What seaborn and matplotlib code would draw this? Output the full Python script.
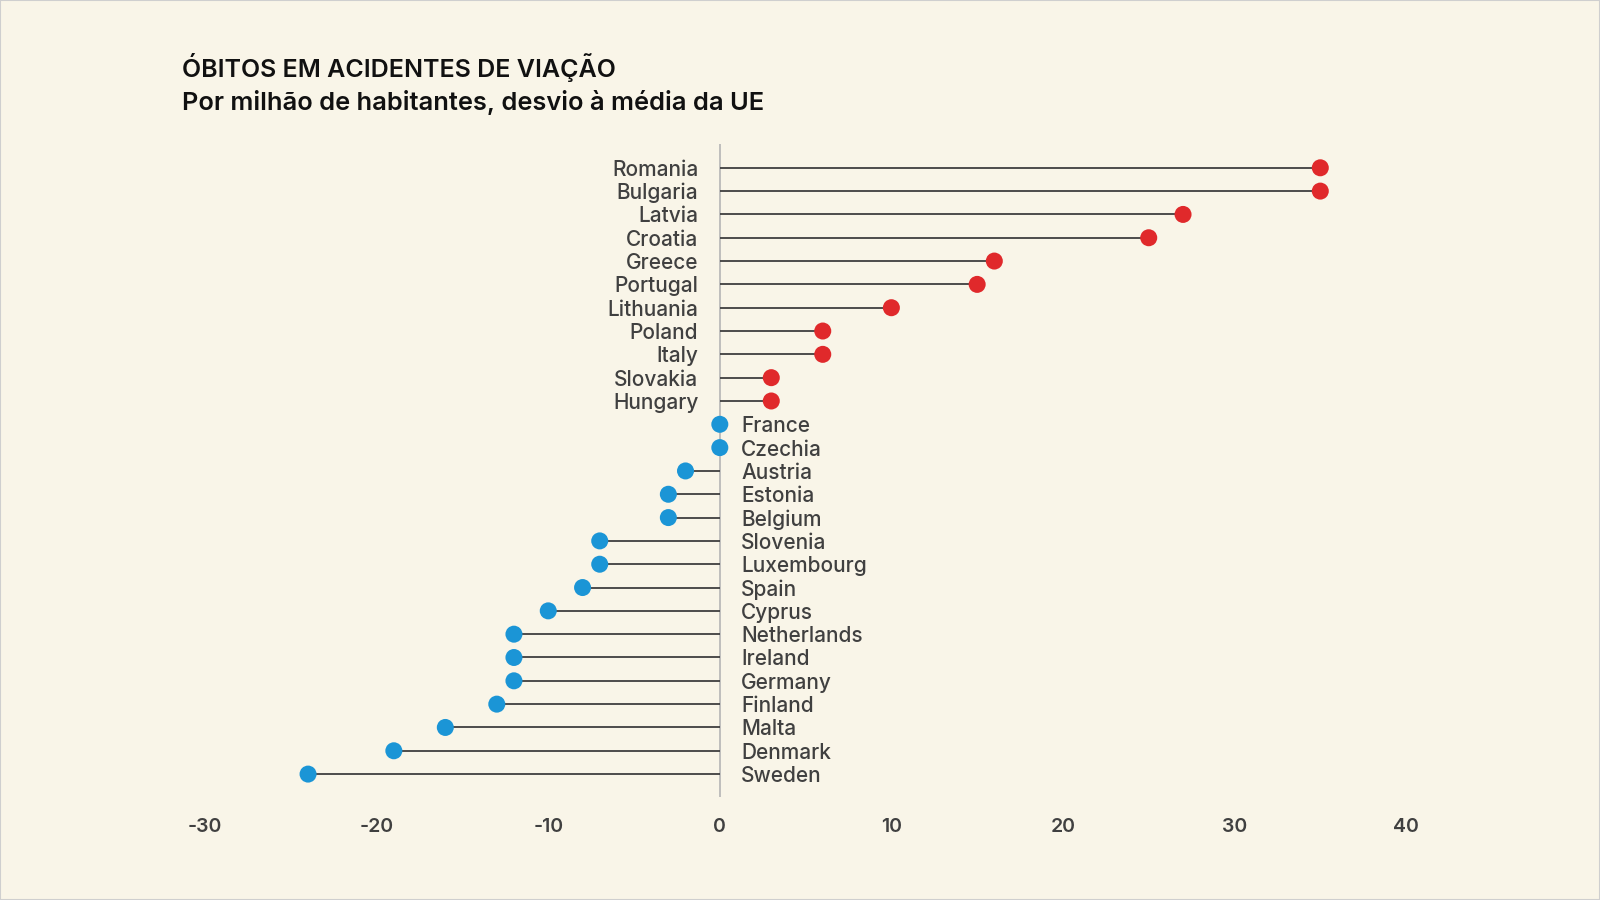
import numpy as np
import pandas as pd
import matplotlib.pyplot as plt
import seaborn as sns

# Deviation from EU average, road deaths per million inhabitants
countries = ["Romania", "Bulgaria", "Latvia", "Croatia", "Greece", "Portugal",
             "Lithuania", "Poland", "Italy", "Slovakia", "Hungary", "France",
             "Czechia", "Austria", "Estonia", "Belgium", "Slovenia", "Luxembourg",
             "Spain", "Cyprus", "Netherlands", "Ireland", "Germany", "Finland",
             "Malta", "Denmark", "Sweden"]
deviation = [35, 35, 27, 25, 16, 15, 10, 6, 6, 3, 3, 0, 0, -2, -3, -3, -7, -7,
             -8, -10, -12, -12, -12, -13, -16, -19, -24]
x_ticks = [-30, -20, -10, 0, 10, 20, 30, 40]

title = "ÓBITOS EM ACIDENTES DE VIAÇÃO"
subtitle = "Por milhão de habitantes, desvio à média da UE"

bg = "#F9F5E8"
red = "#E0292B"
blue = "#1B95D6"
text_col = "#404040"

df = pd.DataFrame({"country": countries, "value": deviation})
df["pos"] = np.arange(len(df))
df["side"] = np.where(df["value"] > 0, "above", "below")

sns.set_theme(style="white")
plt.rcParams["font.family"] = ["Inter", "DejaVu Sans"]

fig = plt.figure(figsize=(16, 9), dpi=100, facecolor=bg)
fig.patches.append(plt.Rectangle((0, 0), 1, 1, transform=fig.transFigure,
                                 fill=False, edgecolor="#CFCFCF", lw=1.5))
ax = fig.add_axes([0.1282, 0.1145, 0.7506, 0.7255])
ax.set_facecolor(bg)

# stems
ax.hlines(df["pos"], 0, df["value"], color="#3F3F3F", lw=1.3, zorder=1)
ax.axvline(0, color="#B5B5B5", lw=1.2, zorder=0)

sns.scatterplot(data=df, x="value", y="pos", hue="side",
                palette={"above": red, "below": blue}, s=150,
                edgecolor="none", legend=False, ax=ax, zorder=3)

# country labels next to the zero line
for _, r in df.iterrows():
    if r["value"] > 0:
        ax.annotate(r["country"], (0, r["pos"]), xytext=(-15.5, 0),
                    textcoords="offset points", ha="right", va="center_baseline",
                    fontsize=15, color=text_col, fontweight="medium")
    else:
        ax.annotate(r["country"], (0, r["pos"]), xytext=(15.5, 0),
                    textcoords="offset points", ha="left", va="center_baseline",
                    fontsize=15, color=text_col, fontweight="medium")

ax.set_xlim(-30, 40)
ax.set_ylim(len(df) - 0.02, -1.02)
ax.set_xticks(x_ticks)
ax.set_xticklabels([str(t) for t in x_ticks], fontsize=14, color=text_col,
                   fontweight="semibold")
ax.tick_params(axis="x", length=0, pad=15)
ax.set_yticks([])
ax.set_xlabel("")
ax.set_ylabel("")
sns.despine(ax=ax, left=True, bottom=True)

fig.text(0.114, 0.925, title, fontsize=18, fontweight="semibold",
         color="#111111", va="center", ha="left")
fig.text(0.114, 0.8866, subtitle, fontsize=18.3, fontweight="semibold",
         color="#111111", va="center", ha="left")

fig.savefig("out.png", dpi=100, facecolor=bg)
